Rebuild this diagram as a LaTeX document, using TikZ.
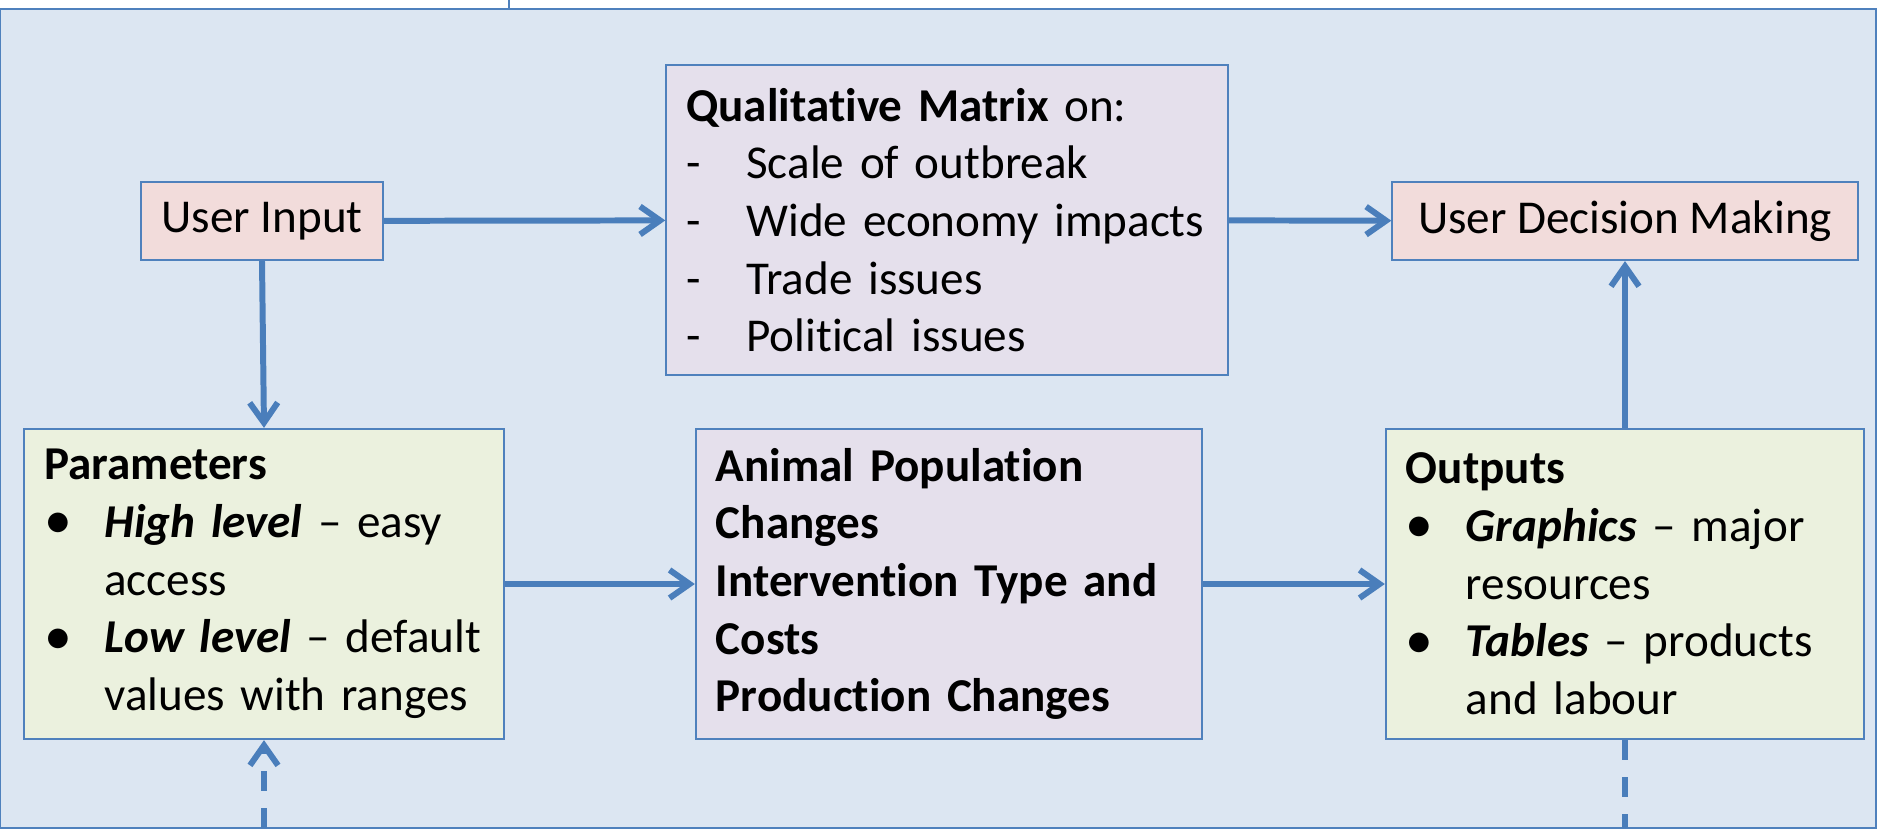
\documentclass[tikz,border=0pt]{standalone}
\usepackage{fontspec}
\setmainfont{Carlito}[Ligatures=NoCommon]
\usetikzlibrary{arrows.meta}

\definecolor{panelfill}{HTML}{DCE6F2}
\definecolor{panelline}{HTML}{4F81BD}
\definecolor{pinkfill}{HTML}{F2DCDB}
\definecolor{lilacfill}{HTML}{E5E0EC}
\definecolor{greenfill}{HTML}{EBF1DE}
\definecolor{flowline}{HTML}{4A7EBB}

\newcommand{\bul}{\makebox[0.6cm][l]{\raisebox{-0.06ex}{\scalebox{1.18}{\textbullet}}}}
\newcommand{\dsh}{\makebox[0.6cm][l]{-}}
\newcommand{\ind}{\hspace*{0.6cm}}

\begin{document}
\begin{tikzpicture}[x=0.01cm,y=-0.01cm,
  box/.style={draw=panelline,line width=0.6pt,inner xsep=0.2cm,inner ysep=0pt,
    font=\fontsize{13.4}{16.4}\selectfont},
  bigbox/.style={box,align=left,text width=#1},
  flow/.style={draw=flowline,line width=1.7pt,-{Straight Barb[length=0.2cm,width=0.28cm]}},
  dashflow/.style={flow,dash pattern=on 0.2cm off 0.17cm}]

\useasboundingbox (0,0) rectangle (1879,830) ;

\draw[panelline,line width=0.6pt] (509,0) -- (509,9) ;
\draw[panelline,line width=0.8pt,fill=panelfill] (0,9) rectangle (1876,828) ;

\node[box,fill=pinkfill,minimum width=2.42cm,minimum height=0.78cm] (uin) at (262,221) {User Input} ;
\node[bigbox=5.21cm,fill=lilacfill,minimum height=3.09cm] (qm) at (947,220) {%
  \textbf{Qualitative Matrix} on:\\
  \dsh Scale of outbreak\\
  \dsh Wide economy impacts\\
  \dsh Trade issues\\
  \dsh Political issues} ;
\node[box,fill=pinkfill,minimum width=4.65cm,minimum height=0.78cm] (udm) at (1625,221) {User Decision Making} ;

\node[bigbox=4.39cm,fill=greenfill,minimum height=3.1cm] (par) at (264,584) {%
  \textbf{Parameters}\\
  \bul\textbf{\textit{High level}} -- easy\\
  \ind access\\
  \bul\textbf{\textit{Low level}} -- default\\
  \ind values with ranges} ;
\node[bigbox=4.66cm,fill=lilacfill,minimum height=3.1cm] (apc) at (949,584) {\bfseries
  Animal Population\\
  Changes\\
  Intervention Type and\\
  Costs\\
  Production Changes} ;
\node[bigbox=4.38cm,fill=greenfill,minimum height=3.1cm] (out) at (1625,584) {%
  \textbf{Outputs}\\
  \bul\textbf{\textit{Graphics}} -- major\\
  \ind resources\\
  \bul\textbf{\textit{Tables}} -- products\\
  \ind and labour} ;

\coordinate (parin) at (264,828) ;
\coordinate (outex) at (1625,828) ;

\draw[flow] (uin) -- (qm) ;
\draw[flow] (qm) -- (udm) ;
\draw[flow] (uin.south) -- (par.north) ;
\draw[flow] (par) -- (apc) ;
\draw[flow] (apc) -- (out) ;
\draw[flow] (out.north) -- (udm.south) ;
\draw[dashflow] (parin) -- (par.south) ;
\draw[dashflow,-] (out.south) -- (outex) ;

\end{tikzpicture}
\end{document}
